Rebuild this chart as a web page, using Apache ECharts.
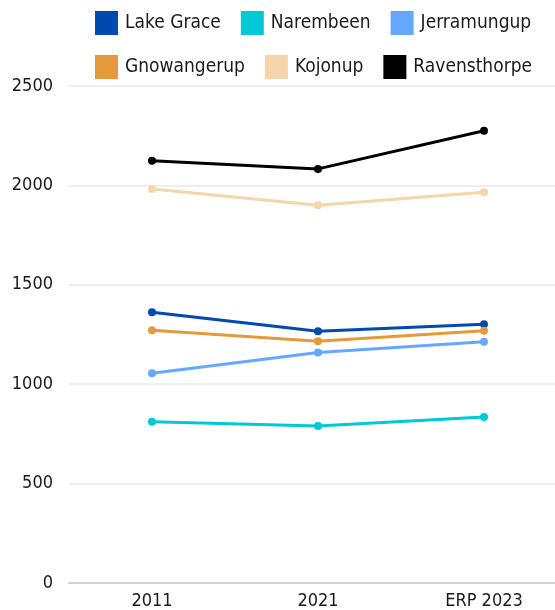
<!DOCTYPE html>
<html>
<head>
<meta charset="utf-8">
<script src="https://cdn.jsdelivr.net/npm/echarts@6/dist/echarts.min.js"></script>
<style>
  html, body { margin: 0; padding: 0; background: #fff; }
  #chart { width: 555px; height: 610px; }
</style>
</head>
<body>
<div id="chart"></div>
<script>
// Population by local government area, census years and 2023 estimate
const categories = ['2011', '2021', 'ERP 2023'];
const lakeGrace = [1362, 1266, 1301];
const narembeen = [811, 790, 835];
const jerramungup = [1055, 1160, 1214];
const gnowangerup = [1271, 1216, 1269];
const kojonup = [1982, 1900, 1965];
const ravensthorpe = [2124, 2083, 2275];
const yTicks = { min: 0, max: 2500, interval: 500 };

const seriesDefs = [
  { name: 'Lake Grace', data: lakeGrace, color: '#004AAD' },
  { name: 'Narembeen', data: narembeen, color: '#00C8D8' },
  { name: 'Jerramungup', data: jerramungup, color: '#66A8FF' },
  { name: 'Gnowangerup', data: gnowangerup, color: '#E59A3A' },
  { name: 'Kojonup', data: kojonup, color: '#F5D5AA' },
  { name: 'Ravensthorpe', data: ravensthorpe, color: '#000000' }
];

const font = '"DejaVu Sans Condensed", "DejaVu Sans", sans-serif';
const chart = echarts.init(document.getElementById('chart'), null, { renderer: 'canvas' });

chart.setOption({
  animation: false,
  textStyle: { fontFamily: font },
  legend: {
    left: 95,
    top: 11,
    width: 450,
    itemWidth: 23,
    itemHeight: 24,
    itemGap: 20,
    padding: 0,
    icon: 'rect',
    textStyle: { fontFamily: font, fontSize: 19, color: '#1a1a1a', padding: [0, 0, 0, 2] },
    data: seriesDefs.map(s => s.name)
  },
  // plot area runs past the right edge of the canvas, so the last category is cut short
  grid: { left: 69, width: 498, top: 86, bottom: 27, outerBoundsMode: 'none', containLabel: false },
  xAxis: {
    type: 'category',
    data: categories,
    boundaryGap: true,
    axisLine: { show: true, lineStyle: { color: '#d2d2d2', width: 2 } },
    axisTick: { show: false },
    axisLabel: { color: '#1a1a1a', fontSize: 18, fontFamily: font, margin: 9 }
  },
  yAxis: {
    type: 'value',
    min: yTicks.min,
    max: yTicks.max,
    interval: yTicks.interval,
    axisLine: { show: false },
    axisTick: { show: false },
    axisLabel: {
      color: '#1a1a1a', fontSize: 18, fontFamily: font, margin: 16,
      formatter: v => String(v)
    },
    splitLine: { lineStyle: { color: '#e8e8e8', width: 1.5 } }
  },
  series: seriesDefs.map(s => ({
    name: s.name,
    type: 'line',
    data: s.data,
    color: s.color,
    symbol: 'circle',
    symbolSize: 8,
    lineStyle: { width: 3, color: s.color },
    itemStyle: { color: s.color }
  }))
});
</script>
</body>
</html>
